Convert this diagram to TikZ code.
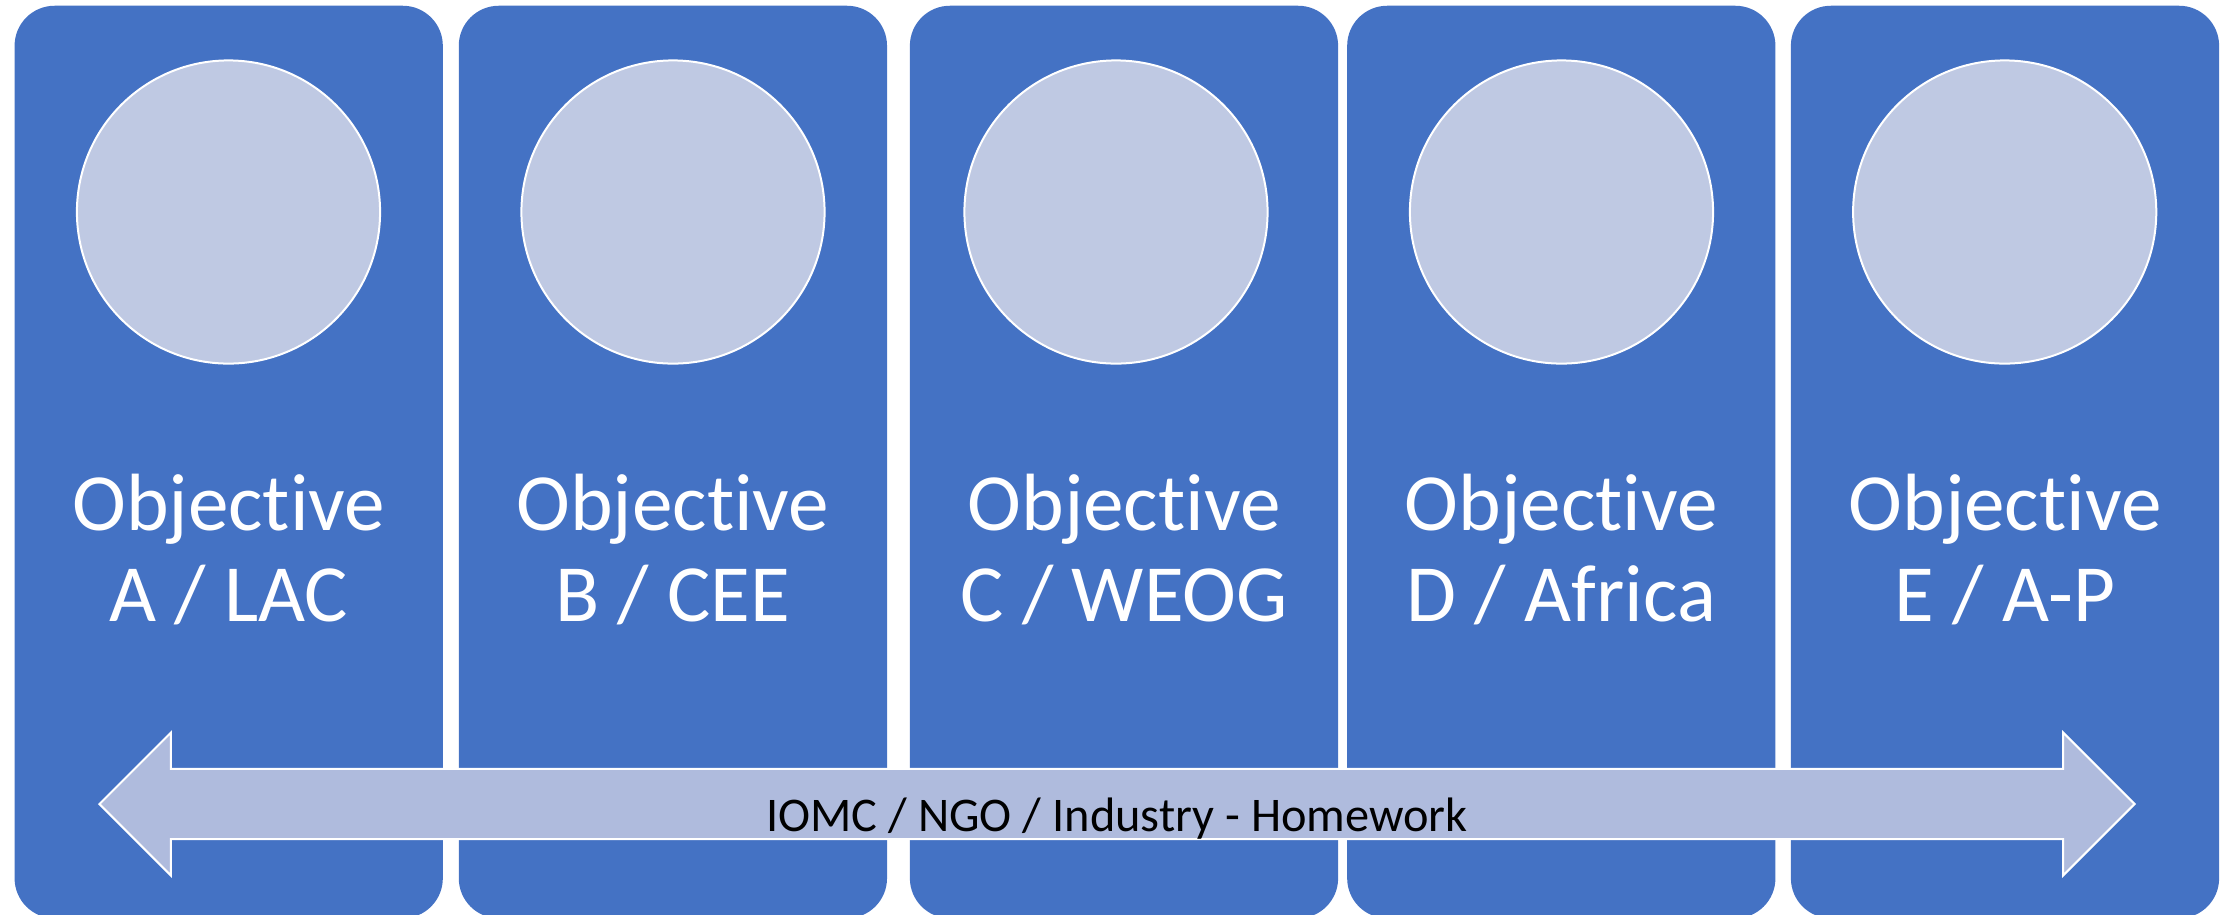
\documentclass[tikz,border=0pt]{standalone}
\usepackage{fontspec}
\setmainfont{Carlito}[Ligatures=NoCommon]
\usepackage{tikz}
\usetikzlibrary{shapes.arrows}
\definecolor{objblue}{RGB}{68,114,196}
\definecolor{discfill}{RGB}{191,201,227}
\definecolor{bandfill}{RGB}{175,187,221}

\begin{document}
\begin{tikzpicture}[%
            x=0.01cm,
            y=-0.01cm,
            objbox/.style={
                rectangle,
                rounded corners=0.4cm,
                fill=objblue,
                inner sep=0pt,
                outer sep=0pt,
                minimum width=4.28cm,
                minimum height=9.12cm,
            },
            disc/.style={
                circle,
                fill=discfill,
                draw=white,
                line width=0.02cm,
                minimum size=3.03cm,
                inner sep=0pt,
            },
            objtext/.style={
                text=white,
                align=center,
                anchor=base,
                font=\fontsize{23.1pt}{25.6pt}\selectfont,
            },
            band/.style={
                double arrow,
                fill=bandfill,
                draw=white,
                line width=0.02cm,
                double arrow head extend=0.365cm,
                double arrow tip angle=90,
                minimum height=20.34cm,
                inner xsep=0pt,
                inner ysep=0pt,
                text height=0.61cm,
                text depth=0.07cm,
                font=\fontsize{13.75pt}{16pt}\selectfont,
            },
        ]
        \useasboundingbox (0,0) rectangle (2226,914);
        \clip (0,0) rectangle (2226,914);

        % columns
        \node[objbox] (boxA) at (228.7,462) {};
        \node[objbox] (boxB) at (672.9,462) {};
        \node[objbox] (boxC) at (1124,462) {};
        \node[objbox] (boxD) at (1561.3,462) {};
        \node[objbox] (boxE) at (2005,462) {};

        % circles
        \node[disc] (discA) at (228.5,212) {};
        \node[disc] (discB) at (673,212) {};
        \node[disc] (discC) at (1116,212) {};
        \node[disc] (discD) at (1561.5,212) {};
        \node[disc] (discE) at (2004.7,212) {};

        % labels (base = last line)
        \node[objtext] (textA) at (228.7,621) {Objective\\A / LAC};
        \node[objtext] (textB) at (672.9,621) {Objective\\B / CEE};
        \node[objtext] (textC) at (1124,621) {Objective\\C / WEOG};
        \node[objtext] (textD) at (1561.3,621) {Objective\\D / Africa};
        \node[objtext] (textE) at (2005,621) {Objective\\E / A-P};

        % arrow
        \node[band] (homework) at (1117,804) {IOMC / NGO / Industry - Homework};
    \end{tikzpicture}
\end{document}
